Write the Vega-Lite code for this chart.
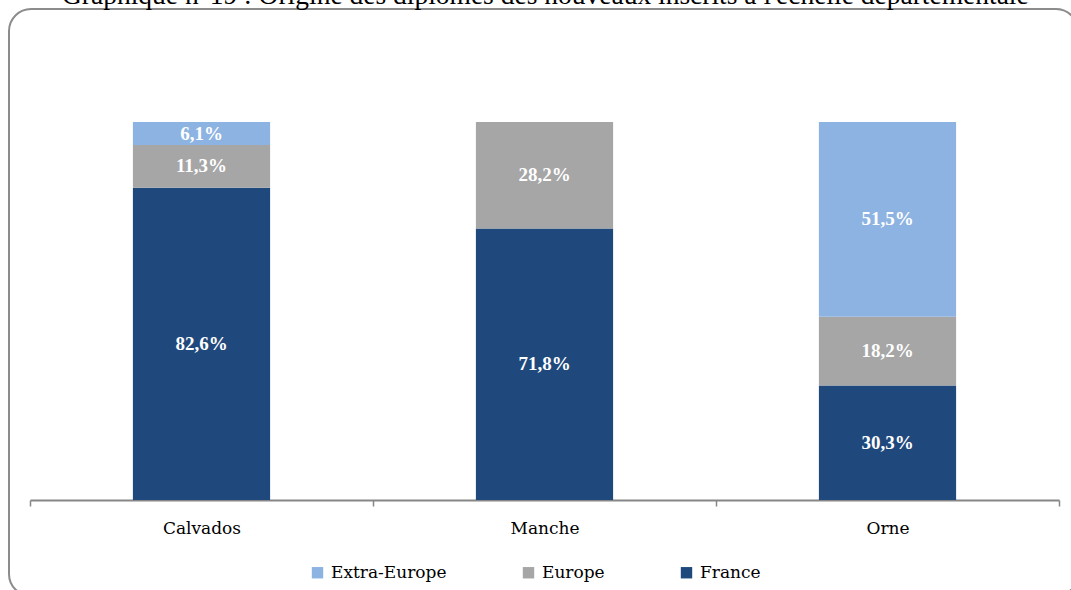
{
  "$schema": "https://vega.github.io/schema/vega-lite/v6.json",
  "autosize": "none",
  "padding": {"left": 9, "top": 9, "right": 0, "bottom": 0},
  "width": 1069,
  "height": 587,
  "background": "white",
  "title": {
    "text": "Graphique n°19 : Origine des diplômes des nouveaux inscrits à l'échelle départementale",
    "anchor": "start",
    "frame": "group",
    "orient": "top",
    "baseline": "alphabetic",
    "offset": -1,
    "dx": 53,
    "dy": 21,
    "font": "Liberation Serif",
    "fontSize": 27.5,
    "fontWeight": "normal",
    "color": "#000000"
  },
  "config": {
    "view": {"stroke": "#8c8c8c", "strokeWidth": 2, "cornerRadius": 22},
    "font": "DejaVu Serif",
    "axis": {"labelFont": "DejaVu Serif"},
    "legend": {"labelFont": "DejaVu Serif"}
  },
  "data": {
    "values": [
      {"dept": "Calvados", "origine": "France", "ord": 1, "pct": 82.6, "label": "82,6%"},
      {"dept": "Calvados", "origine": "Europe", "ord": 2, "pct": 11.3, "label": "11,3%"},
      {"dept": "Calvados", "origine": "Extra-Europe", "ord": 3, "pct": 6.1, "label": "6,1%"},
      {"dept": "Manche", "origine": "France", "ord": 1, "pct": 71.8, "label": "71,8%"},
      {"dept": "Manche", "origine": "Europe", "ord": 2, "pct": 28.2, "label": "28,2%"},
      {"dept": "Orne", "origine": "France", "ord": 1, "pct": 30.3, "label": "30,3%"},
      {"dept": "Orne", "origine": "Europe", "ord": 2, "pct": 18.2, "label": "18,2%"},
      {"dept": "Orne", "origine": "Extra-Europe", "ord": 3, "pct": 51.5, "label": "51,5%"}
    ]
  },
  "transform": [
    {"stack": "pct", "groupby": ["dept"], "sort": [{"field": "ord", "order": "ascending"}], "as": ["y0", "y1"]},
    {"calculate": "(datum.y0 + datum.y1) / 2", "as": "ymid"}
  ],
  "encoding": {
    "x": {
      "field": "dept",
      "type": "nominal",
      "sort": ["Calvados", "Manche", "Orne"],
      "scale": {"range": [21, 1050], "paddingInner": 0, "paddingOuter": 0},
      "axis": {
        "title": null,
        "orient": "bottom",
        "offset": -96,
        "labelAngle": 0,
        "tickBand": "extent",
        "tickSize": 6,
        "tickColor": "#868686",
        "tickWidth": 1.5,
        "domainColor": "#868686",
        "domainWidth": 2,
        "labelFont": "DejaVu Serif",
        "labelFontSize": 17,
        "labelColor": "#000000",
        "labelPadding": 14,
        "grid": false
      }
    }
  },
  "layer": [
    {
      "mark": {"type": "bar", "width": {"band": 0.4}},
      "encoding": {
        "y": {
          "field": "y0",
          "type": "quantitative",
          "scale": {"domain": [0, 100], "range": [491, 113], "nice": false, "zero": false},
          "axis": null
        },
        "y2": {"field": "y1"},
        "color": {
          "field": "origine",
          "type": "nominal",
          "scale": {
            "domain": ["Extra-Europe", "Europe", "France"],
            "range": ["#8DB3E2", "#A6A6A6", "#1F497D"]
          },
          "legend": {
            "title": null,
            "orient": "none",
            "legendX": 300,
            "legendY": 555,
            "direction": "horizontal",
            "symbolType": "square",
            "symbolSize": 130,
            "symbolStrokeWidth": 0,
            "labelFont": "DejaVu Serif",
            "labelFontSize": 17,
            "labelColor": "#000000",
            "columnPadding": 73,
            "labelOffset": 5,
            "padding": 0
          }
        }
      }
    },
    {
      "mark": {"type": "text", "color": "white", "fontWeight": "bold", "fontSize": 19, "font": "Liberation Serif", "baseline": "middle"},
      "encoding": {
        "y": {"field": "ymid", "type": "quantitative"},
        "text": {"field": "label", "type": "nominal"}
      }
    }
  ]
}
